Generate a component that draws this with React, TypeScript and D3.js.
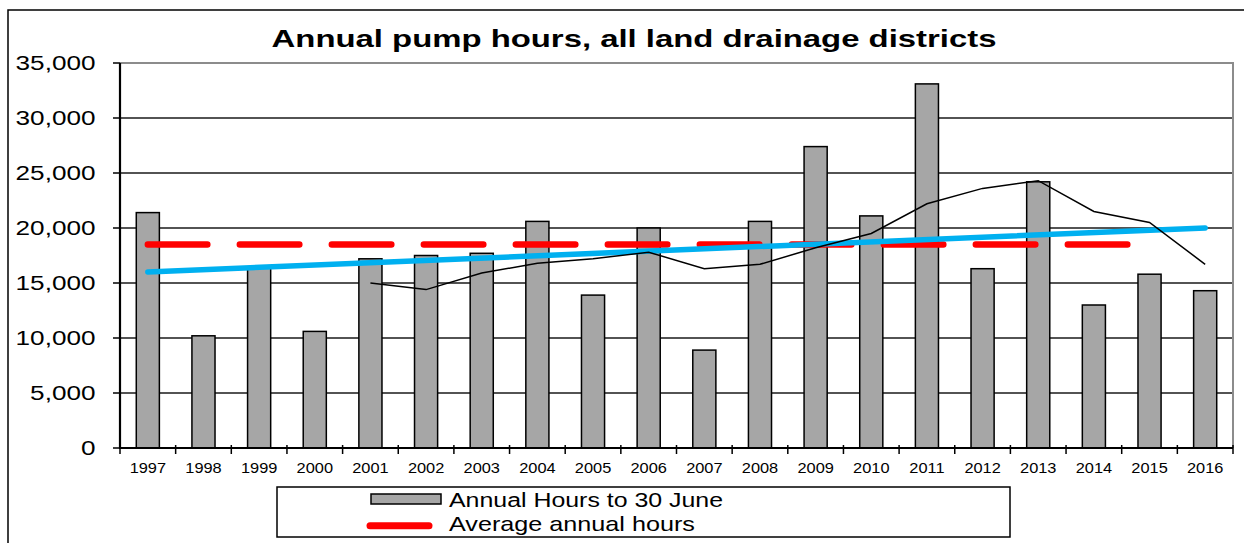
import * as d3 from "d3";
import React from "react";

const years = [
  "1997", "1998", "1999", "2000", "2001", "2002", "2003", "2004", "2005", "2006",
  "2007", "2008", "2009", "2010", "2011", "2012", "2013", "2014", "2015", "2016",
];
const annualHours = [
  21400, 10200, 16400, 10600, 17200, 17500, 17700, 20600, 13900, 20000,
  8900, 20600, 27400, 21100, 33100, 16300, 24200, 13000, 15800, 14300,
];
// average annual hours, drawn 1997-2015
const averageHours = [
  18500, 18500, 18500, 18500, 18500, 18500, 18500, 18500, 18500, 18500,
  18500, 18500, 18500, 18500, 18500, 18500, 18500, 18500, 18500, null,
];
// moving average line (black)
const movingAvg = [
  null, null, null, null, 15000, 14400, 15900, 16800, 17200, 17800,
  16300, 16700, 18200, 19500, 22200, 23600, 24300, 21500, 20500, 16700,
];
// linear trend, first and last year
const trendYears = ["1997", "2016"];
const trendValues = [16000, 20000];
const yTicks = [0, 5000, 10000, 15000, 20000, 25000, 30000, 35000];

const W = 1244;
const H = 543;
const plot = { left: 120, right: 1233, top: 63, bottom: 448 };
const font = "'Liberation Sans', Arial, sans-serif";

export default function App() {
  const x = d3.scaleBand<string>()
    .domain(years)
    .range([plot.left, plot.right])
    .paddingInner(0.585)
    .paddingOuter(0.2925);
  const step = (plot.right - plot.left) / years.length;
  const cx = (y: string) => (x(y) as number) + x.bandwidth() / 2;

  const y = d3.scaleLinear().domain([0, 35000]).range([plot.bottom, plot.top]);
  const fmt = d3.format(",");

  const line = d3.line<[string, number | null]>()
    .defined((d) => d[1] != null)
    .x((d) => cx(d[0]))
    .y((d) => y(d[1] as number));

  const avgPath = line(years.map((yr, i) => [yr, averageHours[i]]));
  const maPath = line(years.map((yr, i) => [yr, movingAvg[i]]));
  const trendPath = line(trendYears.map((yr, i) => [yr, trendValues[i]]));

  const tickXs = d3.range(years.length + 1).map((i) => plot.left + i * step);

  return (
    <svg width={W} height={H} style={{ position: "absolute", left: 0, top: 0 }} fontFamily={font}>
      <rect x={0} y={0} width={W} height={H} fill="#fff" />
      {/* outer chart frame */}
      <rect x={8} y={10} width={W + 20} height={H + 20} fill="none" stroke="#000" strokeWidth={1.5} />

      {/* title */}
      <g transform="translate(634,47.3) scale(1.37,1)">
        <text textAnchor="middle" fontSize={24} fontWeight="bold" fill="#000">
          Annual pump hours, all land drainage districts
        </text>
      </g>

      {/* gridlines */}
      {yTicks.filter((t) => t > 0 && t < 35000).map((t) => (
        <line key={t} x1={plot.left} x2={plot.right} y1={y(t)} y2={y(t)} stroke="#1a1a1a" strokeWidth={1.4} />
      ))}
      {/* plot area border (top + right) */}
      <polyline
        points={`${plot.left},${plot.top} ${plot.right},${plot.top} ${plot.right},${plot.bottom}`}
        fill="none" stroke="#8c8c8c" strokeWidth={2}
      />

      {/* bars */}
      {years.map((yr, i) => (
        <rect
          key={yr}
          x={x(yr)}
          y={y(annualHours[i])}
          width={x.bandwidth()}
          height={plot.bottom - y(annualHours[i])}
          fill="#a6a6a6"
          stroke="#000"
          strokeWidth={1.5}
        />
      ))}

      {/* average dashed red */}
      <path d={avgPath || ""} fill="none" stroke="#ff0000" strokeWidth={6.5}
        strokeLinecap="round" strokeDasharray="59.5 32.5" />
      {/* trend */}
      <path d={trendPath || ""} fill="none" stroke="#00b0f0" strokeWidth={5.5} strokeLinecap="round" />
      {/* moving average */}
      <path d={maPath || ""} fill="none" stroke="#000" strokeWidth={1.5} />

      {/* y axis */}
      <line x1={plot.left} x2={plot.left} y1={plot.top} y2={plot.bottom + 1} stroke="#000" strokeWidth={2.2} />
      {yTicks.map((t) => (
        <g key={t}>
          <line x1={plot.left - 7} x2={plot.left} y1={y(t)} y2={y(t)} stroke="#000" strokeWidth={1.5} />
          <g transform={`translate(95.5,${y(t)}) scale(1.34,1)`}>
            <text textAnchor="end" dy="0.36em" fontSize={19.5} fill="#000">{fmt(t)}</text>
          </g>
        </g>
      ))}

      {/* x axis */}
      <line x1={plot.left} x2={plot.right} y1={plot.bottom} y2={plot.bottom} stroke="#000" strokeWidth={2.2} />
      {tickXs.map((tx, i) => (
        <line key={i} x1={tx} x2={tx} y1={plot.bottom - 3} y2={plot.bottom + 6} stroke="#000" strokeWidth={1.5} />
      ))}
      {years.map((yr) => (
        <g key={yr} transform={`translate(${cx(yr)},473.3) scale(1.17,1)`}>
          <text textAnchor="middle" fontSize={14} fill="#000">{yr}</text>
        </g>
      ))}

      {/* legend */}
      <rect x={277} y={487} width={733} height={50} fill="#fff" stroke="#000" strokeWidth={1.5} />
      <rect x={371} y={494} width={70} height={10} fill="#a6a6a6" stroke="#000" strokeWidth={1.5} />
      <g transform="translate(449,506.5) scale(1.245,1)">
        <text fontSize={20} fill="#000">Annual Hours to 30 June</text>
      </g>
      <line x1={370} x2={429} y1={525.7} y2={525.7} stroke="#ff0000" strokeWidth={7} strokeLinecap="round" />
      <g transform="translate(449,531) scale(1.26,1)">
        <text fontSize={20} fill="#000">Average annual hours</text>
      </g>
    </svg>
  );
}
